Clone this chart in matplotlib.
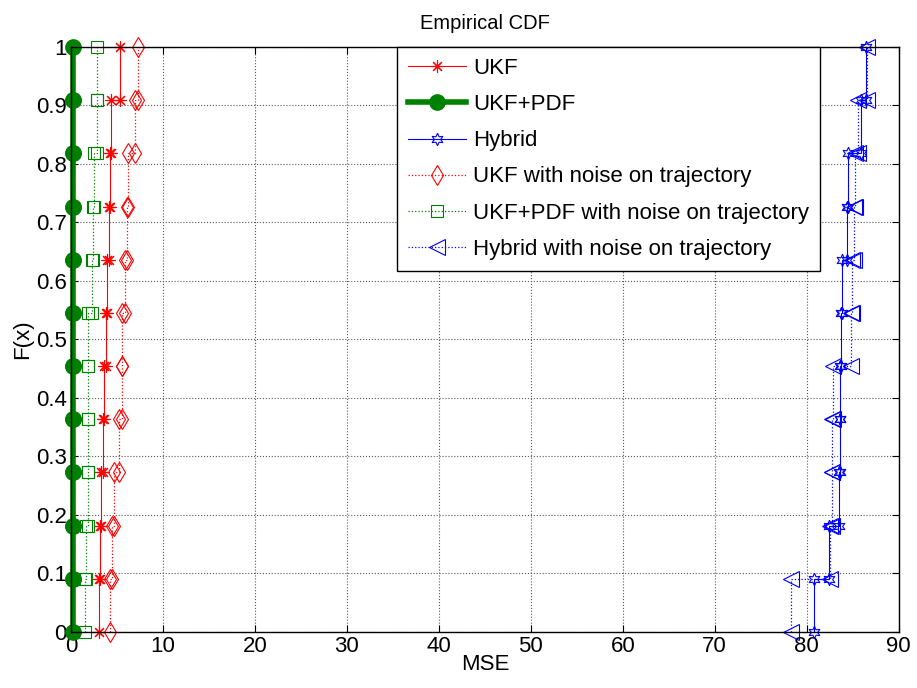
import matplotlib
matplotlib.use('Agg')
import matplotlib.pyplot as plt
import numpy as np

plt.rcParams['font.family'] = ['Liberation Sans', 'DejaVu Sans']

# sorted MSE samples of each run (11 runs per method)
ukf = [3.0, 3.2, 3.3, 3.45, 3.6, 3.8, 3.9, 4.1, 4.2, 4.3, 5.35]
ukf_pdf = [0.25, 0.25, 0.25, 0.25, 0.25, 0.25, 0.25, 0.25, 0.25, 0.25, 0.25]
hybrid = [80.8, 82.4, 83.5, 83.6, 83.6, 83.7, 83.8, 84.4, 84.5, 85.9, 86.5]
ukf_noise = [4.2, 4.45, 4.7, 5.2, 5.5, 5.6, 5.85, 6.1, 6.2, 7.0, 7.3]
ukf_pdf_noise = [1.5, 1.6, 1.85, 1.85, 1.9, 1.9, 2.3, 2.35, 2.45, 2.8, 2.85]
hybrid_noise = [78.3, 82.5, 82.8, 82.8, 82.9, 84.8, 84.9, 85.1, 85.3, 85.6, 86.6]

labels = ['UKF', 'UKF+PDF', 'Hybrid', 'UKF with noise on trajectory',
          'UKF+PDF with noise on trajectory', 'Hybrid with noise on trajectory']


def ecdf_corners(values):
    v = np.sort(np.asarray(values, dtype=float))
    n = len(v)
    xs = np.repeat(v, 2)
    ys = np.concatenate(([0], np.repeat(np.arange(1, n), 2), [n])) / n
    return xs, ys


fig = plt.figure(figsize=(9.17, 6.88), dpi=100)
ax = fig.add_axes([0.0774, 0.0814, 0.9026, 0.8503])

green = '#008000'
styles = [
    (ukf, dict(color='red', ls='-', lw=0.8, marker=(8, 2, 0), ms=9, mew=0.8)),
    (ukf_pdf, dict(color=green, ls='-', lw=4, marker='o', ms=11, mfc=green)),
    (hybrid, dict(color='blue', ls='-', lw=0.8, marker=(6, 1, 0), ms=9, mfc='none', mew=0.8)),
    (ukf_noise, dict(color='red', ls=':', lw=0.9, marker='d', ms=10.5, mfc='none', mew=0.8)),
    (ukf_pdf_noise, dict(color=green, ls=':', lw=0.9, marker='s', ms=8, mfc='none', mew=0.8)),
    (hybrid_noise, dict(color='blue', ls=':', lw=0.9, marker='<', ms=11, mfc='none', mew=0.8)),
]

for (vals, st), lab in zip(styles, labels):
    xs, ys = ecdf_corners(vals)
    ax.plot(xs, ys, label=lab, clip_on=False, **st)

ax.set_xlim(0, 90)
ax.set_ylim(0, 1)
ax.set_xticks(np.arange(0, 91, 10))
ax.set_yticks(np.arange(0, 1.01, 0.1))
ax.set_yticklabels(['0', '0.1', '0.2', '0.3', '0.4', '0.5', '0.6', '0.7', '0.8', '0.9', '1'])
ax.tick_params(direction='in', top=True, right=True, labelsize=16, length=5, pad=3)
ax.grid(True, linestyle=':', color='0.35', linewidth=0.8)

ax.set_title('Empirical CDF', fontsize=14.5, pad=13)
ax.set_xlabel('MSE', fontsize=16, labelpad=-2)
ax.set_ylabel('F(x)', fontsize=16, labelpad=2)

leg = ax.legend(loc='upper right', bbox_to_anchor=(0.905, 1.0), borderaxespad=0,
                fontsize=16, numpoints=1, handlelength=2.6, handletextpad=0.3,
                borderpad=0.5, labelspacing=0.68, fancybox=False, framealpha=1,
                edgecolor='black')
leg.get_frame().set_linewidth(1.0)

for s in ax.spines.values():
    s.set_linewidth(1.0)

fig.savefig('out.png', dpi=100)
